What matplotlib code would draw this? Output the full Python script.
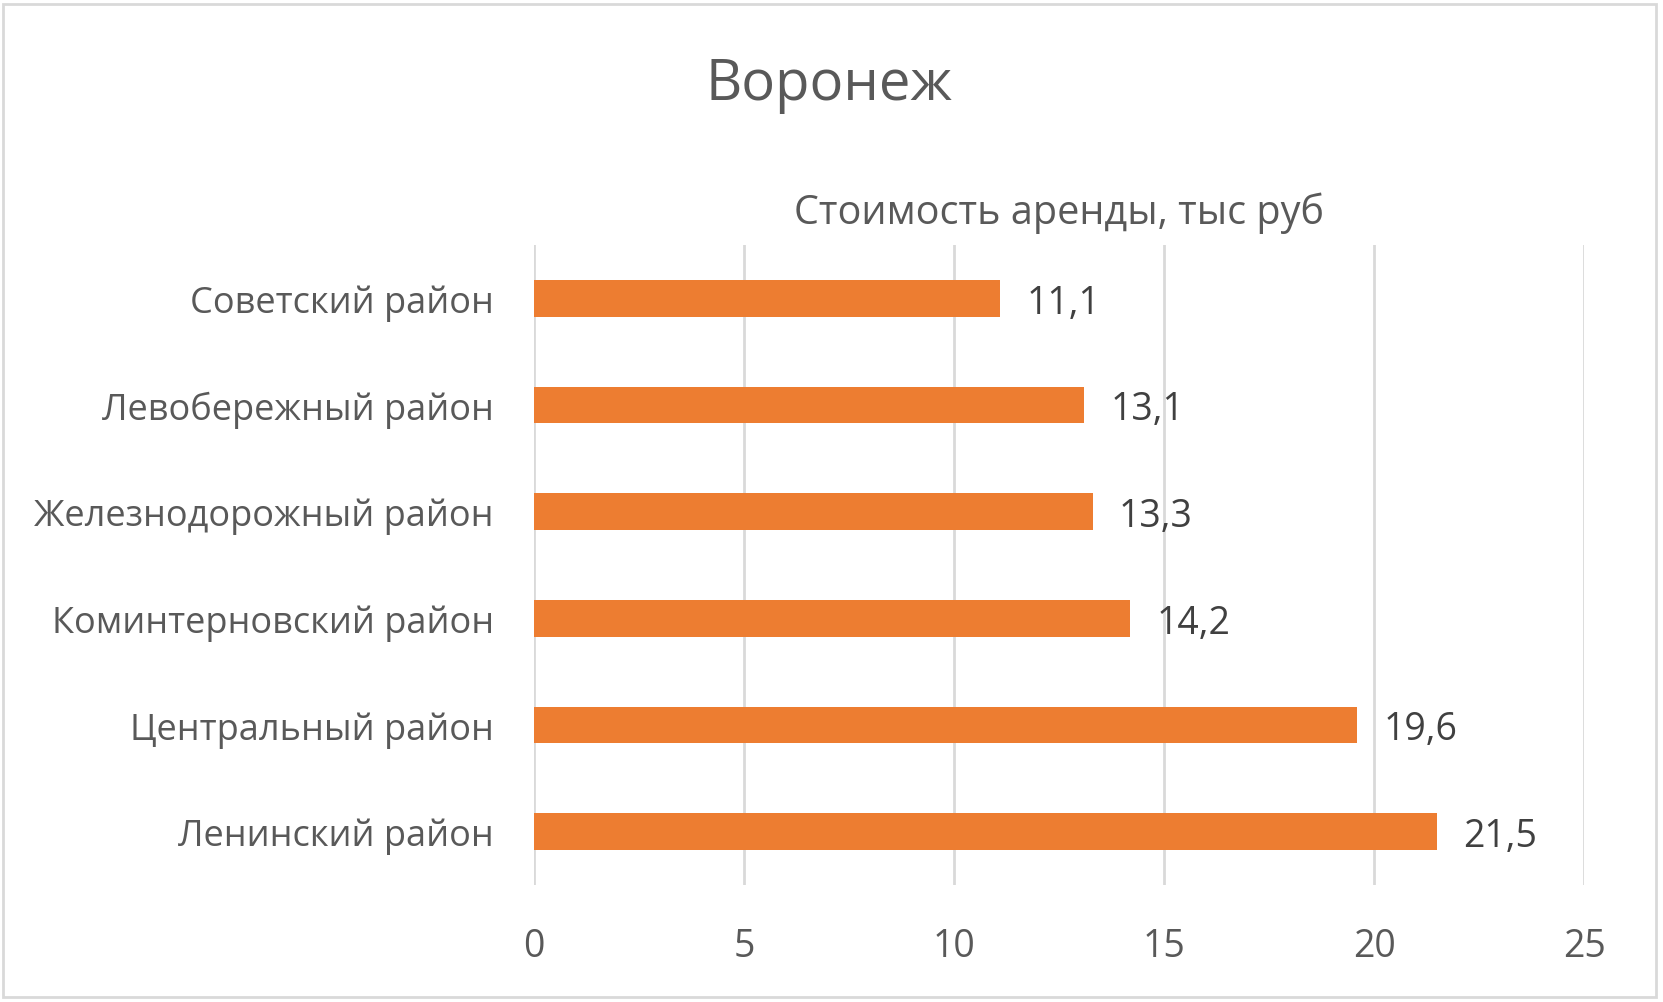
import matplotlib
matplotlib.use("Agg")
from matplotlib import pyplot as plt
from matplotlib.patches import Rectangle

# data (bottom to top)
districts = ['Ленинский район', 'Центральный район', 'Коминтерновский район',
             'Железнодорожный район', 'Левобережный район', 'Советский район']
rent = [21.5, 19.6, 14.2, 13.3, 13.1, 11.1]
ticks = [0, 5, 10, 15, 20, 25]

plt.rcParams['font.family'] = ['Open Sans', 'DejaVu Sans']

fig = plt.figure(figsize=(16.63, 10.03), dpi=100)
ax = fig.add_axes([0.3211, 0.1166, 0.6314, 0.6381])

ax.barh(range(len(districts)), rent, height=0.345, color='#ED7D31', zorder=3)

for i, v in enumerate(rent):
    ax.annotate(f'{v:.1f}'.replace('.', ','), (v, i), xytext=(19, -3),
                textcoords='offset points', va='center', ha='left',
                fontsize=27, color='#404040')

ax.set_xlim(0, 25)
ax.set_ylim(-0.5, len(districts) - 0.5)
ax.set_xticks(ticks)
ax.set_yticks(range(len(districts)))
ax.set_yticklabels(districts)
ax.tick_params(axis='y', length=0, pad=29, labelsize=26, labelcolor='#595959')
ax.tick_params(axis='x', length=0, pad=30, labelsize=27, labelcolor='#595959')
ax.grid(axis='x', color='#D9D9D9', linewidth=2, zorder=0)
for s in ax.spines.values():
    s.set_visible(False)

fig.text(0.4987, 0.915, 'Воронеж', ha='center', va='center',
         fontsize=40.5, color='#595959')
ax.set_title('Стоимость аренды, тыс руб', fontsize=28.5, color='#595959', pad=16)

fig.patches.append(Rectangle((0.002, 0.005), 0.994, 0.99, transform=fig.transFigure,
                             fill=False, edgecolor='#D9D9D9', linewidth=2))

fig.savefig('out.png', dpi=100, facecolor='white')
